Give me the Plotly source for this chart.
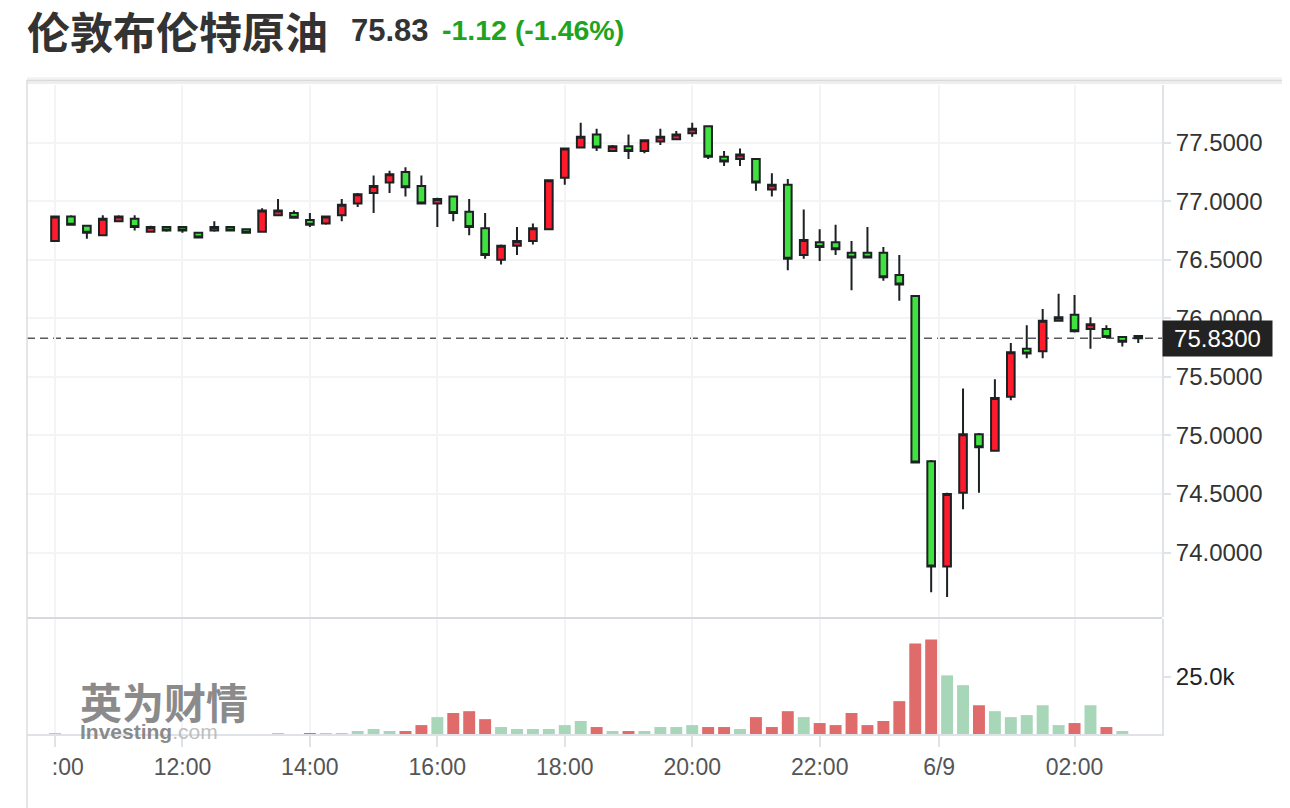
import plotly.graph_objects as go

# ---------------- data ----------------
title_cn = "伦敦布伦特原油"
last_text = "75.83"
change_text = "-1.12 (-1.46%)"
last_price = 75.83

opens = [76.66, 76.87, 76.79, 76.71, 76.83, 76.85, 76.74, 76.78, 76.78, 76.73,
         76.75, 76.78, 76.76, 76.74, 76.88, 76.90, 76.84, 76.81, 76.88, 76.98,
         77.07, 77.16, 77.25, 77.13, 76.98, 77.04, 76.91, 76.77, 76.50, 76.62,
         76.66, 76.76, 77.20, 77.46, 77.57, 77.43, 77.47, 77.43, 77.51, 77.53,
         77.58, 77.64, 77.38, 77.36, 77.36, 77.10, 77.14, 76.54, 76.65, 76.65,
         76.56, 76.56, 76.56, 76.37, 76.19, 74.78, 73.88, 74.51, 75.01, 74.87,
         75.33, 75.74, 75.72, 75.98, 76.03, 75.91, 75.91, 75.84, 75.85]
highs = [76.87, 76.88, 76.80, 76.88, 76.88, 76.88, 76.79, 76.78, 76.78, 76.74,
         76.83, 76.78, 76.76, 76.94, 77.02, 76.92, 76.90, 76.87, 77.02, 77.07,
         77.22, 77.26, 77.29, 77.22, 77.03, 77.04, 77.02, 76.90, 76.63, 76.78,
         76.81, 77.18, 77.45, 77.67, 77.62, 77.48, 77.57, 77.53, 77.62, 77.60,
         77.67, 77.64, 77.43, 77.45, 77.36, 77.24, 77.19, 76.93, 76.76, 76.80,
         76.66, 76.78, 76.61, 76.54, 76.20, 74.79, 74.51, 75.40, 75.02, 75.48,
         75.79, 75.94, 76.08, 76.21, 76.20, 76.01, 75.94, 75.84, 75.85]
lows = [76.66, 76.80, 76.68, 76.71, 76.82, 76.75, 76.74, 76.74, 76.73, 76.69,
        76.74, 76.75, 76.73, 76.74, 76.88, 76.85, 76.78, 76.80, 76.83, 76.95,
        76.90, 77.07, 77.04, 76.98, 76.78, 76.83, 76.71, 76.51, 76.46, 76.54,
        76.63, 76.76, 77.14, 77.46, 77.43, 77.43, 77.36, 77.41, 77.48, 77.53,
        77.55, 77.36, 77.30, 77.30, 77.09, 77.04, 76.41, 76.51, 76.49, 76.54,
        76.24, 76.52, 76.32, 76.15, 74.77, 73.66, 73.62, 74.37, 74.51, 74.87,
        75.30, 75.66, 75.66, 75.98, 75.88, 75.74, 75.84, 75.76, 75.79]
closes = [76.87, 76.80, 76.73, 76.85, 76.87, 76.78, 76.78, 76.75, 76.75, 76.69,
          76.78, 76.75, 76.73, 76.92, 76.92, 76.86, 76.80, 76.87, 76.97, 77.06,
          77.13, 77.23, 77.12, 76.98, 77.02, 76.90, 76.78, 76.54, 76.62, 76.66,
          76.77, 77.18, 77.45, 77.55, 77.46, 77.47, 77.43, 77.52, 77.55, 77.57,
          77.62, 77.38, 77.34, 77.40, 77.16, 77.14, 76.51, 76.67, 76.61, 76.59,
          76.52, 76.52, 76.35, 76.29, 74.77, 73.88, 74.50, 75.01, 74.90, 75.32,
          75.71, 75.70, 75.98, 76.01, 75.89, 75.95, 75.84, 75.80, 75.83]
volumes_k = [0.4, 0, 0, 0, 0, 0, 0, 0, 0, 0,
             0, 0, 0, 0, 0.4, 0, 0.4, 0.4, 0.4, 1.3,
             2.2, 1.3, 1.3, 3.9, 7.4, 9.2, 10.0, 6.5, 3.05, 2.2,
             2.2, 2.2, 3.9, 5.7, 3.05, 1.3, 1.3, 1.3, 3.05, 3.05,
             3.9, 3.05, 3.05, 2.2, 7.4, 3.05, 10.0, 7.4, 4.8, 3.9,
             9.2, 3.9, 5.7, 14.4, 39.7, 41.4, 25.7, 21.4, 12.6, 10.0,
             7.4, 8.3, 12.6, 3.9, 4.8, 12.6, 3.05, 1.3, 0]
vol_up = [1, 0, 0, 0, 0, 0, 0, 0, 0, 0,
          0, 0, 0, 0, 1, 0, 0, 1, 1, 1,
          1, 1, 0, 0, 1, 0, 0, 0, 1, 1,
          1, 1, 1, 1, 0, 1, 0, 1, 1, 1,
          1, 0, 0, 1, 0, 0, 0, 1, 0, 0,
          0, 0, 0, 0, 0, 0, 1, 1, 0, 1,
          1, 1, 1, 1, 0, 1, 0, 1, 1]

tick_pos = [0, 8, 16, 24, 32, 40, 48, 55.5, 64]
tick_labels = ["10:00", "12:00", "14:00", "16:00", "18:00", "20:00", "22:00", "6/9", "02:00"]
price_ticks = [74.0, 74.5, 75.0, 75.5, 76.0, 76.5, 77.0, 77.5]
vol_ticks = [25.0]
vol_tick_labels = ["25.0k"]

# ---------------- geometry ----------------
# The page body has an 8px default margin: the figure is sized to fit the
# 1290x808 window and every target page-pixel position is shifted by OFF.
OFF = 8
W, H = 1290 - OFF, 808 - OFF
ML, MR, MT, MB = 27 - OFF, W - (1162 - OFF), 85 - OFF, H - (734 - OFF)
PW, PH = W - ML - MR, H - MT - MB


def px_x(px):
    """page pixel x -> paper coordinate"""
    return (px - OFF - ML) / PW


def px_y(py):
    """page pixel y -> paper coordinate"""
    return (H - MB - (py - OFF)) / PH


idx = list(range(len(opens)))

UP_FILL = "#ff1a2c"
DN_FILL = "#3fe23f"
EDGE = "#1c2124"
VOL_G = "#a8d6b9"
VOL_R = "#e06b6b"
GRID = "#f3f4f6"
AXIS = "#dfe3e8"

fig = go.Figure()
fig.add_trace(go.Candlestick(
    x=idx, open=opens, high=highs, low=lows, close=closes,
    increasing=dict(fillcolor=UP_FILL, line=dict(color=EDGE, width=2)),
    decreasing=dict(fillcolor=DN_FILL, line=dict(color=EDGE, width=2)),
    whiskerwidth=0, xaxis="x", yaxis="y", showlegend=False, hoverinfo="skip"))

fig.add_trace(go.Bar(
    x=idx, y=volumes_k, width=0.75,
    marker=dict(color=[VOL_G if u else VOL_R for u in vol_up], line=dict(width=0)),
    xaxis="x", yaxis="y2", showlegend=False, hoverinfo="skip"))

shown_labels = ["\u2007\u2007:00"] + tick_labels[1:]

fig.update_layout(
    template="none",
    width=W, height=H,
    margin=dict(l=ML, r=MR, t=MT, b=MB, pad=0),
    paper_bgcolor="white", plot_bgcolor="white",
    font=dict(family="Liberation Sans, Arial, sans-serif", color="#333"),
    boxgap=0.52, boxgroupgap=0,
    xaxis=dict(
        range=[-1.758, 69.49], anchor="y2", rangeslider=dict(visible=False),
        tickmode="array", tickvals=tick_pos, ticktext=shown_labels,
        tickfont=dict(size=23, color="#555"),
        showgrid=True, gridcolor=GRID, gridwidth=2, zeroline=False,
        showline=True, linecolor=AXIS, linewidth=2,
        ticks="outside", ticklen=11, tickwidth=2, tickcolor=AXIS,
        automargin=False, fixedrange=True),
    yaxis=dict(
        domain=[px_y(617), 1], range=[73.4496, 77.9927], side="right", anchor="x",
        tickmode="array", tickvals=price_ticks, tickformat=".4f",
        tickfont=dict(size=24, color="#333"),
        showgrid=True, gridcolor=GRID, gridwidth=2, zeroline=False,
        showline=True, linecolor=AXIS, linewidth=2,
        ticks="outside", ticklen=7, tickwidth=2, tickcolor=AXIS,
        automargin=False),
    yaxis2=dict(
        domain=[0, px_y(619)], range=[0, 50.4], side="right", anchor="x",
        tickmode="array", tickvals=vol_ticks, ticktext=vol_tick_labels,
        tickfont=dict(size=24, color="#222"),
        showgrid=False, zeroline=False,
        showline=True, linecolor=AXIS, linewidth=2,
        ticks="outside", ticklen=7, tickwidth=2, tickcolor=AXIS,
        automargin=False),
)

shapes = [
    # last price dashed line
    dict(type="line", xref="paper", yref="y", x0=0, x1=1, y0=last_price, y1=last_price,
         line=dict(color="#5a5a5a", width=1.6, dash="8px,5px"), layer="between"),
    # pane separator
    dict(type="line", xref="paper", yref="paper", x0=0, x1=1, y0=px_y(618), y1=px_y(618),
         line=dict(color="#d6dae0", width=2)),
    # panel shadow / border
    dict(type="line", xref="paper", yref="paper", x0=0, x1=px_x(1290), y0=px_y(78), y1=px_y(78),
         line=dict(color="#f4f4f4", width=2)),
    dict(type="line", xref="paper", yref="paper", x0=0, x1=px_x(1290), y0=px_y(80.5), y1=px_y(80.5),
         line=dict(color="#dadada", width=2)),
    dict(type="line", xref="paper", yref="paper", x0=0, x1=px_x(1290), y0=px_y(83), y1=px_y(83),
         line=dict(color="#eeeeee", width=2)),
    dict(type="line", xref="paper", yref="paper", x0=0, x1=0, y0=px_y(80), y1=px_y(808),
         line=dict(color="#dddddd", width=1.5)),
]
fig.update_layout(shapes=shapes)

annotations = [
    dict(xref="paper", yref="paper", x=px_x(25), y=px_y(30), xanchor="left", yanchor="middle",
         text="<b>" + title_cn + "</b>", showarrow=False,
         font=dict(family="Noto Sans CJK SC", size=43, color="#333")),
    dict(xref="paper", yref="paper", x=px_x(349), y=px_y(30), xanchor="left", yanchor="middle",
         text="<b>" + last_text + "</b>", showarrow=False,
         font=dict(size=31, color="#333")),
    dict(xref="paper", yref="paper", x=px_x(440), y=px_y(30), xanchor="left", yanchor="middle",
         text="<b>" + change_text + "</b>", showarrow=False,
         font=dict(size=28.5, color="#1ea41e")),
    # last price tag
    dict(xref="paper", yref="y", x=1.0, y=last_price, xanchor="left", yanchor="middle",
         text="%.4f" % last_price, showarrow=False, bgcolor="#222222",
         width=107, height=33, borderpad=1,
         font=dict(size=24, color="white")),
    # watermark
    dict(xref="paper", yref="paper", x=px_x(78), y=px_y(700), xanchor="left", yanchor="middle",
         text="<b>英为财情</b>", showarrow=False, opacity=0.85,
         font=dict(family="Noto Sans CJK SC", size=42, color="#777")),
    dict(xref="paper", yref="paper", x=px_x(78), y=px_y(731), xanchor="left", yanchor="middle",
         text="<b>Investing</b><span style='color:#b5b5b5'>.com</span>", showarrow=False,
         opacity=0.85, font=dict(size=21, color="#777")),
]
fig.update_layout(annotations=annotations)

fig.write_html("out.html")
